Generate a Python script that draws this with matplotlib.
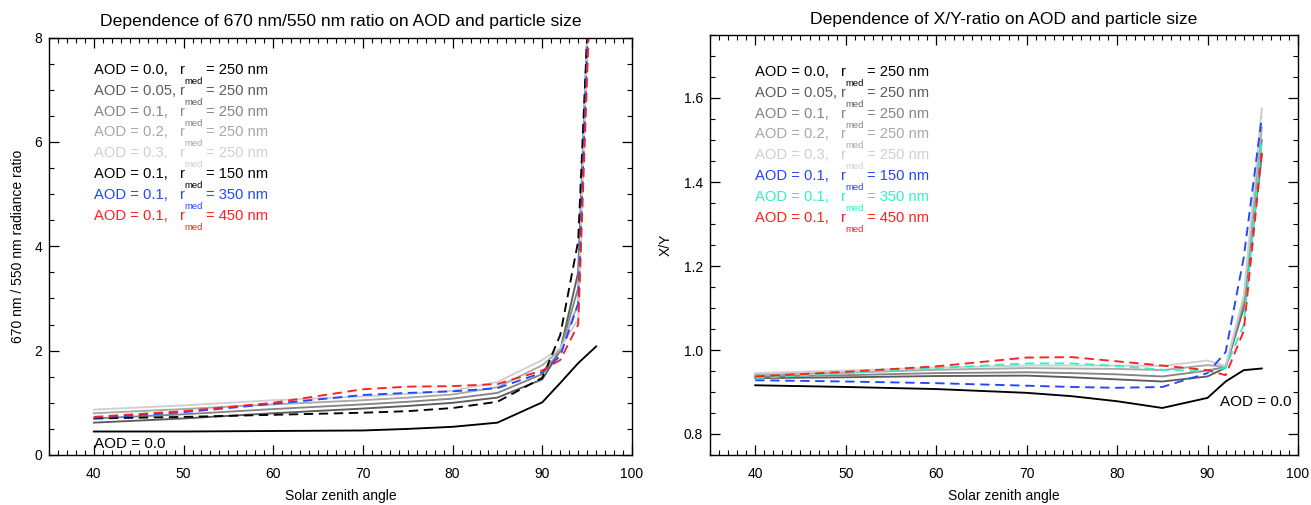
import numpy as np
import matplotlib
matplotlib.use("Agg")
import matplotlib.pyplot as plt
from matplotlib.ticker import MultipleLocator

plt.rcParams['font.family'] = ['Liberation Sans', 'DejaVu Sans']

# solar zenith angles (deg)
sza = [40, 50, 60, 70, 75, 80, 85, 90, 92, 94, 96]

# 670/550 nm radiance ratio
ratio_aod00 = [0.45, 0.45, 0.46, 0.47, 0.50, 0.54, 0.62, 1.01, 1.38, 1.76, 2.08]
ratio_aod005 = [0.62, 0.70, 0.80, 0.89, 0.94, 1.00, 1.10, 1.45, 2.00, 3.50, 12.5]
ratio_aod01 = [0.70, 0.78, 0.88, 0.97, 1.02, 1.08, 1.19, 1.55, 2.00, 3.20, 12.8]
ratio_aod02 = [0.80, 0.88, 0.97, 1.05, 1.10, 1.16, 1.30, 1.72, 2.02, 2.90, 13.0]
ratio_aod03 = [0.87, 0.95, 1.05, 1.12, 1.17, 1.23, 1.40, 1.82, 2.05, 2.60, 13.2]
ratio_r150 = [0.70, 0.73, 0.77, 0.81, 0.84, 0.90, 1.02, 1.48, 2.30, 4.10, 12.0]
ratio_r350 = [0.71, 0.82, 0.98, 1.15, 1.19, 1.22, 1.28, 1.58, 1.90, 2.90, 12.5]
ratio_r450 = [0.73, 0.84, 1.00, 1.26, 1.31, 1.32, 1.36, 1.62, 1.82, 2.50, 12.0]

# X/Y ratio
xy_aod00 = [0.916, 0.912, 0.907, 0.898, 0.890, 0.878, 0.862, 0.886, 0.925, 0.952, 0.956]
xy_aod005 = [0.933, 0.935, 0.938, 0.939, 0.935, 0.930, 0.925, 0.937, 0.958, 1.100, 1.465]
xy_aod01 = [0.937, 0.940, 0.945, 0.947, 0.945, 0.942, 0.937, 0.951, 0.960, 1.110, 1.500]
xy_aod02 = [0.941, 0.946, 0.953, 0.957, 0.956, 0.955, 0.952, 0.964, 0.960, 1.120, 1.530]
xy_aod03 = [0.945, 0.951, 0.958, 0.963, 0.963, 0.963, 0.962, 0.975, 0.962, 1.130, 1.575]
xy_r150 = [0.928, 0.925, 0.921, 0.915, 0.912, 0.910, 0.912, 0.945, 0.995, 1.220, 1.555]
xy_r350 = [0.933, 0.945, 0.957, 0.968, 0.968, 0.962, 0.953, 0.949, 0.958, 1.060, 1.500]
xy_r450 = [0.937, 0.948, 0.961, 0.982, 0.983, 0.973, 0.963, 0.952, 0.940, 1.045, 1.470]

aod_labels = ['AOD = 0.0,', 'AOD = 0.05,', 'AOD = 0.1,', 'AOD = 0.2,', 'AOD = 0.3,',
              'AOD = 0.1,', 'AOD = 0.1,', 'AOD = 0.1,']
size_labels = ['= 250 nm', '= 250 nm', '= 250 nm', '= 250 nm', '= 250 nm',
               '= 150 nm', '= 350 nm', '= 450 nm']

greys = ['#000000', '#5c5c5c', '#858585', '#a8a8a8', '#cfcfcf']
blue = '#2146ff'
red = '#ff1f1f'
cyan = '#2ef2c4'

W, H = 1311, 505
fig = plt.figure(figsize=(W / 100, H / 100), dpi=100)
ax1 = fig.add_axes([49 / W, 1 - 455 / H, 583 / W, 417.5 / H])
ax2 = fig.add_axes([710 / W, 1 - 455 / H, 588 / W, 420 / H])

dash = (5, 3)
lw = 1.35

# left panel
for vals, c in zip([ratio_aod00, ratio_aod005, ratio_aod01, ratio_aod02, ratio_aod03], greys):
    ax1.plot(sza, vals, color=c, lw=lw)
ax1.plot(sza, ratio_r150, color='black', lw=lw, dashes=dash)
ax1.plot(sza, ratio_r350, color=blue, lw=lw, dashes=dash)
ax1.plot(sza, ratio_r450, color=red, lw=lw, dashes=dash)
ax1.set_ylim(0, 8)
ax1.yaxis.set_major_locator(MultipleLocator(2))
ax1.yaxis.set_minor_locator(MultipleLocator(0.5))
ax1.set_title('Dependence of 670 nm/550 nm ratio on AOD and particle size', fontsize=12.6, pad=8)
ax1.set_ylabel('670 nm / 550 nm radiance ratio', fontsize=10, va='center')
ax1.yaxis.set_label_coords(-0.053, 0.5)

# right panel
for vals, c in zip([xy_aod00, xy_aod005, xy_aod01, xy_aod02, xy_aod03], greys):
    ax2.plot(sza, vals, color=c, lw=lw)
ax2.plot(sza, xy_r150, color=blue, lw=lw, dashes=dash)
ax2.plot(sza, xy_r350, color=cyan, lw=lw, dashes=dash)
ax2.plot(sza, xy_r450, color=red, lw=lw, dashes=dash)
ax2.set_ylim(0.75, 1.75)
ax2.set_yticks([0.8, 1.0, 1.2, 1.4, 1.6])
ax2.set_yticklabels(['0.8', '1.0', '1.2', '1.4', '1.6'])
ax2.yaxis.set_minor_locator(MultipleLocator(0.05))
ax2.set_title('Dependence of X/Y-ratio on AOD and particle size', fontsize=12.6, pad=8)
ax2.set_ylabel('X/Y', fontsize=10, va='center')
ax2.yaxis.set_label_coords(-0.076, 0.5)

for ax in (ax1, ax2):
    ax.set_xlim(35, 100)
    ax.xaxis.set_major_locator(MultipleLocator(10))
    ax.xaxis.set_minor_locator(MultipleLocator(1))
    ax.set_xlabel('Solar zenith angle', fontsize=10, va='center')
    ax.xaxis.set_label_coords(0.5, -0.098)
    ax.tick_params(which='both', direction='in', top=True, right=True, labelsize=10)
    ax.tick_params(which='major', length=7.5, width=0.9)
    ax.tick_params(which='minor', length=3.5, width=0.8)
    ax.tick_params(axis='x', pad=9)
    ax.tick_params(axis='y', pad=5)
    for s in ax.spines.values():
        s.set_linewidth(1.0)


def legend(x0, y0, colors):
    for i, (a, s, c) in enumerate(zip(aod_labels, size_labels, colors)):
        y = y0 + i * 20.8
        fig.text(x0 / W, 1 - y / H, a, color=c, fontsize=10.6, va='center')
        fig.text((x0 + 86) / W, 1 - y / H, 'r', color=c, fontsize=10.6, va='center')
        fig.text((x0 + 90) / W, 1 - (y + 11.5) / H, 'med', color=c, fontsize=6.8, va='center')
        fig.text((x0 + 112) / W, 1 - y / H, s, color=c, fontsize=10.6, va='center')


legend(94, 70, greys + ['black', blue, red])
legend(755, 72, greys + [blue, cyan, red])

ax1.text(40, 0.22, 'AOD = 0.0', fontsize=11, va='center')
ax2.text(91.4, 0.875, 'AOD = 0.0', fontsize=11, va='center')

fig.savefig('out.png', dpi=100)
